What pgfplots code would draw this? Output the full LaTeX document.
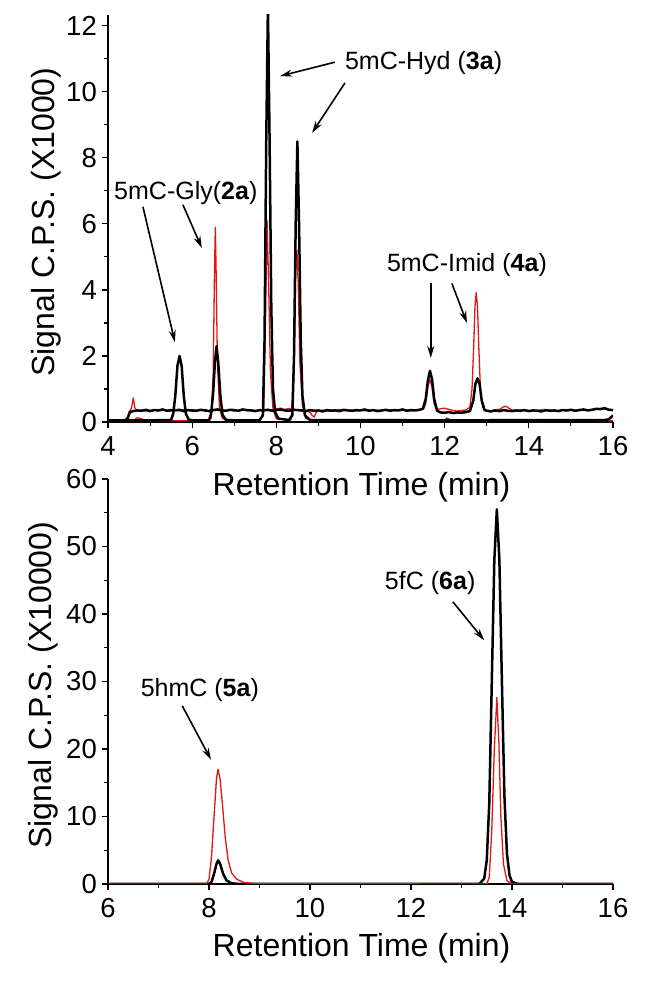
\documentclass[border=0pt]{standalone}
\usepackage{fontspec}
\setmainfont{Liberation Sans}
\usepackage{pgfplots}
\pgfplotsset{compat=1.18}
\usetikzlibrary{arrows.meta}
\definecolor{cred}{RGB}{230,20,20}

\pgfplotsset{
  chrom/.style={
    scale only axis,
    width=505pt,
    axis x line*=bottom, axis y line*=left,
    axis line style={line width=1.3pt},
    tick align=outside,
    tick style={line width=1.1pt, black},
    major tick length=6pt, minor tick length=4pt,
    minor tick num=1,
    tick label style={font=\fontsize{27.5}{27.5}\selectfont},
    xticklabel style={anchor=north, inner sep=0pt, yshift=-8pt},
    yticklabel style={anchor=east, inner sep=0pt, xshift=-5pt},
    label style={font=\fontsize{32}{32}\selectfont},
    /pgf/number format/assume math mode=true,
    xlabel={Retention Time (min)},
    anchor=south west,
    clip=true,
  },
}
\tikzset{
  blk/.style={black, line width=2.5pt, line join=round},
  rd/.style={cred, line width=1.3pt, line join=round},
  arr/.style={line width=1.6pt,-{Stealth[length=12pt,width=7pt]}},
  ann/.style={font=\fontsize{25}{25}\selectfont},
}

\begin{document}
\begin{tikzpicture}[x=1pt,y=1pt]
\useasboundingbox (0,0) rectangle (646,985);

% ---------------- TOP ----------------
\begin{axis}[chrom, at={(108pt,563pt)}, height=407pt,
  xmin=4, xmax=16, ymin=0, ymax=12.33,
  xtick={4,6,...,16}, ytick={0,2,...,12},
  ylabel={Signal C.P.S. (X1000)},
  ylabel style={at={(axis description cs:-0.1069,0.491)}, anchor=base},
  xlabel style={at={(axis description cs:0.502,-0.1794)}, anchor=base},
]
% red, high baseline
\addplot[rd] coordinates {
(4.0,0.05)(4.45,0.05)(4.5,0.30)(4.56,0.42)(4.6,0.73)(4.64,0.42)(4.7,0.34)
(4.8,0.36)(4.9,0.33)(5.0,0.35)(5.1,0.37)(5.2,0.34)(5.3,0.36)(5.4,0.35)(5.5,0.33)
(5.6,0.36)(5.7,0.34)(5.8,0.37)(5.9,0.35)(6.0,0.33)(6.1,0.36)(6.2,0.35)(6.3,0.38)
(6.4,0.34)(6.5,0.36)(6.6,0.35)(6.7,0.37)(6.8,0.34)(6.9,0.36)(7.0,0.33)(7.1,0.35)
(7.2,0.37)(7.3,0.34)(7.4,0.36)(7.5,0.35)(7.6,0.34)(7.7,0.36)(7.8,0.38)(7.9,0.37)
(8.0,0.40)(8.1,0.42)(8.2,0.38)(8.3,0.41)(8.4,0.37)(8.5,0.36)(8.6,0.35)(8.7,0.33)
(8.8,0.30)(8.85,0.20)(8.9,0.15)(8.95,0.30)(9.0,0.34)(9.1,0.36)(9.2,0.33)(9.3,0.37)
(9.4,0.35)(9.5,0.38)(9.6,0.34)(9.7,0.36)(9.8,0.35)(9.9,0.33)(10.0,0.36)(10.1,0.34)
(10.2,0.37)(10.3,0.35)(10.4,0.36)(10.5,0.34)(10.6,0.35)(10.7,0.37)(10.8,0.34)(10.9,0.36)
(11.0,0.35)(11.1,0.37)(11.2,0.34)(11.3,0.36)(11.4,0.35)(11.5,0.40)(11.55,0.55)(11.6,1.05)
(11.65,1.30)(11.7,1.05)(11.75,0.55)(11.82,0.38)(11.9,0.40)(12.0,0.42)(12.1,0.38)(12.2,0.35)
(12.3,0.33)(12.4,0.35)(12.5,0.36)(12.6,0.45)(12.65,1.0)(12.69,2.3)(12.72,3.5)(12.75,3.92)
(12.78,3.5)(12.81,2.3)(12.85,1.0)(12.9,0.45)(12.95,0.36)(13.0,0.35)(13.1,0.34)(13.2,0.37)
(13.3,0.38)(13.4,0.46)(13.45,0.48)(13.5,0.44)(13.6,0.36)(13.7,0.34)(13.8,0.36)(13.9,0.35)
(14.0,0.33)(14.1,0.36)(14.2,0.35)(14.3,0.37)(14.4,0.34)(14.5,0.36)(14.6,0.33)(14.7,0.35)
(14.8,0.37)(14.9,0.34)(15.0,0.36)(15.1,0.35)(15.2,0.38)(15.3,0.36)(15.4,0.37)(15.5,0.35)
(15.6,0.38)(15.7,0.41)(15.8,0.40)(15.9,0.38)(16.0,0.37)
};
% red, low baseline
\addplot[rd] coordinates {
(4.0,0.03)(4.6,0.05)(4.7,0.13)(4.8,0.09)(4.9,0.05)(5.0,0.04)(6.3,0.04)(6.45,0.10)
(6.5,1.5)(6.53,4.5)(6.55,5.9)(6.57,4.5)(6.6,1.8)(6.65,0.4)(6.72,0.10)(7.0,0.05)
(7.6,0.05)(7.7,0.3)(7.74,3.0)(7.78,6.1)(7.82,4.0)(7.86,1.5)(7.92,0.4)(8.0,0.10)
(8.35,0.06)(8.42,1.5)(8.46,4.5)(8.49,5.2)(8.52,4.2)(8.56,1.8)(8.62,0.5)(8.7,0.10)
(9.0,0.05)(12.0,0.06)(12.05,0.12)(12.15,0.06)(16.0,0.04)
};
% black, low baseline
\addplot[blk] coordinates {
(4.0,0.04)(4.5,0.05)(5.0,0.05)(5.5,0.06)(5.55,0.25)(5.6,0.8)(5.65,1.7)(5.7,2.0)
(5.75,1.7)(5.8,0.8)(5.85,0.25)(5.92,0.07)(6.0,0.05)(6.4,0.05)(6.45,0.25)(6.5,0.9)
(6.54,1.8)(6.58,2.3)(6.62,1.8)(6.67,0.8)(6.72,0.22)(6.8,0.06)(7.0,0.05)(7.6,0.05)
(7.68,0.2)(7.72,2.5)(7.76,8.5)(7.8,12.6)(7.84,8.5)(7.88,3.5)(7.92,1.0)(7.97,0.3)
(8.05,0.10)(8.3,0.06)(8.38,0.2)(8.42,2.0)(8.46,6.0)(8.5,8.5)(8.54,6.0)(8.58,2.5)
(8.62,0.8)(8.68,0.2)(8.8,0.06)(12.0,0.05)(15.8,0.06)(15.9,0.08)(16.0,0.20)
};
% black, high baseline
\addplot[blk] coordinates {
(4.0,0.05)(4.4,0.05)(4.47,0.12)(4.52,0.30)(4.6,0.33)(4.7,0.35)(4.8,0.34)(4.9,0.37)
(5.0,0.33)(5.1,0.36)(5.2,0.35)(5.3,0.38)(5.4,0.34)(5.5,0.36)(5.6,0.35)(5.7,0.37)
(5.8,0.33)(5.9,0.36)(6.0,0.35)(6.1,0.34)(6.2,0.37)(6.3,0.35)(6.4,0.33)(6.5,0.36)
(6.6,0.38)(6.7,0.35)(6.8,0.34)(6.9,0.37)(7.0,0.36)(7.1,0.34)(7.2,0.38)(7.3,0.36)
(7.4,0.35)(7.5,0.33)(7.6,0.36)(7.7,0.35)(7.8,0.37)(7.9,0.34)(8.0,0.36)(8.1,0.38)
(8.2,0.35)(8.3,0.34)(8.4,0.37)(8.5,0.36)(8.6,0.35)(8.7,0.33)(8.8,0.36)(8.9,0.34)
(9.0,0.35)(9.1,0.32)(9.2,0.36)(9.3,0.34)(9.4,0.35)(9.5,0.33)(9.6,0.37)(9.7,0.35)
(9.8,0.34)(9.9,0.36)(10.0,0.35)(10.1,0.38)(10.2,0.34)(10.3,0.36)(10.4,0.33)(10.5,0.35)
(10.6,0.37)(10.7,0.34)(10.8,0.36)(10.9,0.35)(11.0,0.38)(11.1,0.34)(11.2,0.36)(11.3,0.35)
(11.4,0.37)(11.48,0.40)(11.55,0.70)(11.6,1.25)(11.65,1.55)(11.7,1.3)(11.75,0.70)(11.82,0.34)
(11.9,0.29)(12.0,0.28)(12.1,0.30)(12.2,0.27)(12.3,0.29)(12.4,0.28)(12.5,0.30)(12.6,0.33)
(12.68,0.65)(12.73,1.15)(12.78,1.32)(12.83,1.15)(12.88,0.65)(12.95,0.36)(13.0,0.34)(13.1,0.32)
(13.2,0.35)(13.3,0.33)(13.4,0.36)(13.5,0.34)(13.6,0.33)(13.7,0.35)(13.8,0.34)(13.9,0.36)
(14.0,0.33)(14.1,0.35)(14.2,0.34)(14.3,0.32)(14.4,0.36)(14.5,0.34)(14.6,0.35)(14.7,0.33)
(14.8,0.36)(14.9,0.35)(15.0,0.37)(15.1,0.34)(15.2,0.36)(15.3,0.38)(15.4,0.35)(15.5,0.37)
(15.6,0.40)(15.7,0.39)(15.8,0.42)(15.9,0.37)(16.0,0.36)
};
% annotations
\node[ann] at (axis cs:5.85,6.94) {5mC-Gly(\textbf{2a})};
\draw[arr] (axis cs:4.83,6.52) -- (axis cs:5.59,2.42);
\draw[arr] (axis cs:5.78,6.58) -- (axis cs:6.23,5.27);
\node[ann] at (axis cs:11.5,10.88) {5mC-Hyd (\textbf{3a})};
\draw[arr] (axis cs:9.39,10.9) -- (axis cs:8.09,10.48);
\draw[arr] (axis cs:9.63,10.27) -- (axis cs:8.85,8.76);
\node[ann] at (axis cs:12.53,4.76) {5mC-Imid (\textbf{4a})};
\draw[arr] (axis cs:11.67,4.2) -- (axis cs:11.67,1.94);
\draw[arr] (axis cs:12.17,4.2) -- (axis cs:12.53,3.0);
\end{axis}

% ---------------- BOTTOM ----------------
\begin{axis}[chrom, at={(108pt,101pt)}, height=405pt,
  xmin=6, xmax=16, ymin=0, ymax=60,
  xtick={6,8,...,16}, ytick={0,10,...,60},
  ylabel={Signal C.P.S. (X10000)},
  ylabel style={at={(axis description cs:-0.111,0.491)}, anchor=base},
  xlabel style={at={(axis description cs:0.502,-0.178)}, anchor=base},
]
\addplot[blk] coordinates {
(6.0,0)(8.0,0)(8.05,0.3)(8.1,1.5)(8.15,3.0)(8.18,3.5)(8.22,3.0)(8.28,1.5)
(8.35,0.5)(8.45,0.1)(8.6,0)(13.35,0)(13.45,0.8)(13.5,3.5)(13.55,12)(13.6,30)
(13.65,48)(13.7,55.5)(13.75,48)(13.8,30)(13.85,13)(13.9,4.5)(13.95,1.3)(14.0,0.3)
(14.1,0.05)(14.2,0)(16.0,0)
};
\addplot[rd] coordinates {
(6.0,0)(7.95,0)(8.0,0.7)(8.05,4)(8.1,10)(8.15,15.8)(8.18,17)(8.22,15.5)
(8.27,11.5)(8.32,7)(8.38,3.5)(8.45,1.6)(8.55,0.7)(8.7,0.2)(9.0,0.05)(13.5,0)
(13.55,1)(13.6,8)(13.65,20)(13.7,27.6)(13.74,21)(13.78,10)(13.83,3)(13.9,0.5)
(14.0,0)(16.0,0)
};
\node[ann] at (axis cs:7.82,28.7) {5hmC (\textbf{5a})};
\draw[arr] (axis cs:7.47,26.4) -- (axis cs:8.04,18.4);
\node[ann] at (axis cs:12.38,44.6) {5fC (\textbf{6a})};
\draw[arr] (axis cs:12.83,41.8) -- (axis cs:13.45,36.1);
\end{axis}
\end{tikzpicture}
\end{document}
